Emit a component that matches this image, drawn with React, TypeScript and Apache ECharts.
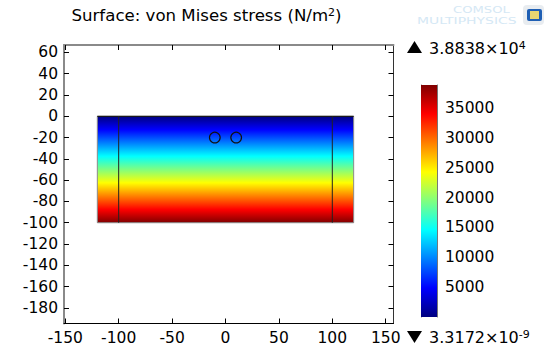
import React, { useEffect, useRef } from "react";
import * as echarts from "echarts";

const xTicks = [-150, -100, -50, 0, 50, 100, 150];
const yTicks = [60, 40, 20, 0, -20, -40, -60, -80, -100, -120, -140, -160, -180];
const barTicks = [5000, 10000, 15000, 20000, 25000, 30000, 35000];
const plate = [[-120, 0, 120, -100]];
const innerLines = [[-100, 0, -100, -100], [100, 0, 100, -100]];
const holes = [[-10, -20, 5], [10, -20, 5]];
const barRange = [[0, 3.3172e-9, 1, 38838]];
const jetStops: [number, string][] = [
  [0, "#000080"],
  [0.125, "#0000ff"],
  [0.375, "#00ffff"],
  [0.625, "#ffff00"],
  [0.875, "#ff0000"],
  [1, "#800000"],
];
const barStops: [number, string][] = [
  [0, "#800000"],
  [0.125, "#ff0000"],
  [0.375, "#ffff00"],
  [0.625, "#00ffff"],
  [0.875, "#0000ff"],
  [1, "#000080"],
];
const FONT = "DejaVu Sans";
const gradient = (stops: [number, string][]) => ({
  type: "linear", x: 0, y: 0, x2: 0, y2: 1,
  colorStops: stops.map(([offset, color]) => ({ offset, color })),
});
const labelStyle = { color: "#000", fontFamily: FONT, fontSize: 15.5 };

function rectOf(api: any) {
  const a = api.coord([api.value(0), api.value(1)]);
  const b = api.coord([api.value(2), api.value(3)]);
  return { x: a[0], y: Math.min(a[1], b[1]), width: b[0] - a[0], height: Math.abs(b[1] - a[1]) };
}

export default function App() {
  const ref = useRef<HTMLDivElement>(null);
  useEffect(() => {
    const chart = echarts.init(ref.current!, undefined, { renderer: "svg" });
    const cartesianX = (position: string, color: string, width: number, labels: boolean) => ({
      type: "value", gridIndex: 0, position, min: -151.2, max: 157.3, splitLine: { show: false },
      axisLine: { show: true, onZero: false, lineStyle: { color, width } },
      axisTick: { show: true, inside: true, length: 5, customValues: xTicks, lineStyle: { color: "#000" } },
      axisLabel: labels ? { ...labelStyle, margin: 6, customValues: xTicks, formatter: (v: number) => String(v) } : { show: false },
    });
    const cartesianY = (position: string, color: string, width: number, labels: boolean) => ({
      type: "value", gridIndex: 0, position, min: -194.7, max: 67, splitLine: { show: false },
      axisLine: { show: true, onZero: false, lineStyle: { color, width } },
      axisTick: { show: true, inside: true, length: 5, customValues: yTicks, lineStyle: { color: "#000" } },
      axisLabel: labels ? { ...labelStyle, margin: 6, customValues: yTicks, formatter: (v: number) => String(v) } : { show: false },
    });
    const barY = (position: string, labels: boolean) => ({
      type: "value", gridIndex: 1, position, min: 0, max: 38838, splitLine: { show: false },
      axisLine: { show: true, lineStyle: { color: "#777", width: 1 } },
      axisTick: { show: true, inside: true, length: 3, customValues: barTicks, lineStyle: { color: "#000" } },
      axisLabel: labels ? { ...labelStyle, margin: 8, customValues: barTicks, formatter: (v: number) => String(v) } : { show: false },
    });
    const supRich = { sup: { fontFamily: FONT, fontSize: 11, fill: "#000", color: "#000", verticalAlign: "top", lineHeight: 15 } };
    chart.setOption({
      animation: false,
      title: {
        left: 71.5, top: 7, padding: 0,
        text: "Surface: von Mises stress (N/m{sup|2})",
        textStyle: { fontFamily: FONT, fontWeight: "normal", fontSize: 16.6, color: "#000", rich: supRich },
      },
      grid: [
        { left: 64, top: 45, width: 329.5, height: 278.5 },
        { left: 421, top: 85, width: 16, height: 232 },
      ],
      xAxis: [
        cartesianX("bottom", "#000", 1, true),
        cartesianX("top", "#8a8a8a", 2, false),
        { type: "value", gridIndex: 1, min: 0, max: 1, show: false },
      ],
      yAxis: [
        cartesianY("left", "#8a8a8a", 2, true),
        cartesianY("right", "#333", 1, false),
        barY("left", false),
        barY("right", true),
      ],
      series: [
        {
          type: "custom", xAxisIndex: 0, yAxisIndex: 0, data: plate, encode: { x: [0, 2], y: [1, 3] },
          renderItem: (_: any, api: any) => {
            const r = rectOf(api);
            return {
              type: "group",
              children: [
                { type: "rect", shape: { x: r.x, y: r.y, width: r.width, height: r.height }, style: { fill: gradient(jetStops), stroke: "#8a8a8a", lineWidth: 1 } },
                { type: "line", shape: { x1: r.x, y1: r.y, x2: r.x + r.width, y2: r.y }, style: { stroke: "#000", lineWidth: 1 } },
              ],
            };
          },
        },
        {
          type: "custom", xAxisIndex: 0, yAxisIndex: 0, data: innerLines, encode: { x: [0, 2], y: [1, 3] },
          renderItem: (_: any, api: any) => {
            const a = api.coord([api.value(0), api.value(1)]);
            const b = api.coord([api.value(2), api.value(3)]);
            return { type: "line", shape: { x1: a[0], y1: a[1], x2: b[0], y2: b[1] }, style: { stroke: "#222", lineWidth: 1 } };
          },
        },
        {
          type: "custom", xAxisIndex: 0, yAxisIndex: 0, data: holes, encode: { x: 0, y: 1 },
          renderItem: (_: any, api: any) => {
            const c = api.coord([api.value(0), api.value(1)]);
            const s = api.size([api.value(2), 0]);
            return { type: "circle", shape: { cx: c[0], cy: c[1], r: s[0] }, style: { fill: "none", stroke: "#111", lineWidth: 1.2 } };
          },
        },
        {
          type: "custom", xAxisIndex: 2, yAxisIndex: 2, data: barRange, encode: { x: [0, 2], y: [1, 3] },
          renderItem: (_: any, api: any) => {
            const r = rectOf(api);
            return { type: "rect", shape: { x: r.x, y: r.y, width: r.width, height: r.height }, style: { fill: gradient(barStops) } };
          },
        },
      ],
      graphic: [
        { type: "polygon", shape: { points: [[407, 53], [422, 53], [414.5, 41]] }, style: { fill: "#000" } },
        { type: "polygon", shape: { points: [[407, 331], [422, 331], [414.5, 343]] }, style: { fill: "#000" } },
        {
          type: "text", x: 429, y: 40,
          style: { text: "3.8838×10{sup|4}", fontFamily: FONT, fontSize: 16, fill: "#000", rich: supRich },
        },
        {
          type: "text", x: 429, y: 329,
          style: { text: "3.3172×10{sup|-9}", fontFamily: FONT, fontSize: 16, fill: "#000", rich: supRich },
        },
        { type: "text", x: 453, y: 5.8, scaleX: 1.46, style: { text: "COMSOL", fontFamily: FONT, fontSize: 9, fill: "#d5e8f5" } },
        { type: "text", x: 417, y: 16, scaleX: 1.55, style: { text: "MULTIPHYSICS", fontFamily: FONT, fontSize: 9, fill: "#d5e8f5" } },
        { type: "rect", shape: { x: 523, y: 5, width: 21, height: 20, r: 4 }, style: { fill: "#e8ecf0" } },
        { type: "rect", shape: { x: 527, y: 9, width: 15, height: 12, r: 2 }, style: { fill: "#1f5fb4" } },
        { type: "rect", shape: { x: 530, y: 11, width: 9, height: 8 }, style: { fill: "#e8d772" } },
      ],
    });
    return () => chart.dispose();
  }, []);
  return <div ref={ref} style={{ position: "absolute", left: 0, top: 0, width: 550, height: 353, background: "#fff" }} />;
}
